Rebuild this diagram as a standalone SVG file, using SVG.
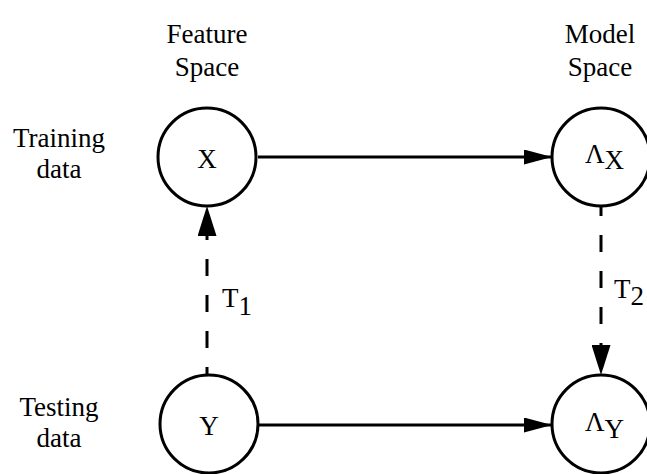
<svg xmlns="http://www.w3.org/2000/svg" width="647" height="474" viewBox="0 0 647 474">
<style>
.t{font-family:'Liberation Serif',serif;font-size:27px;fill:#000}
.c{text-anchor:middle}
.node circle{fill:#fff;stroke:#000;stroke-width:3}
.edge{stroke:#000;stroke-width:3;fill:none}
.dash{stroke-dasharray:17 19}
</style>
<defs>
<marker id="ah" markerWidth="28" markerHeight="15" refX="28" refY="7.5" orient="auto" markerUnits="userSpaceOnUse">
<path d="M0,0 L28,7.5 L0,15 Z" fill="#000"/>
</marker>
<marker id="av" markerWidth="30" markerHeight="19" refX="30" refY="9.5" orient="auto" markerUnits="userSpaceOnUse">
<path d="M0,0 L30,9.5 L0,19 Z" fill="#000"/>
</marker>
</defs>
<g id="headers">
<text class="t c" x="207" y="43">Feature</text>
<text class="t c" x="207" y="76">Space</text>
<text class="t c" x="600" y="43">Model</text>
<text class="t c" x="600" y="76">Space</text>
<text class="t c" x="59" y="147">Training</text>
<text class="t c" x="59" y="178">data</text>
<text class="t c" x="59" y="416">Testing</text>
<text class="t c" x="59" y="447">data</text>
</g>
<g id="connectors">
<line class="edge" x1="258" y1="157" x2="552" y2="157" marker-end="url(#ah)"/>
<line class="edge" x1="259" y1="425" x2="552" y2="425" marker-end="url(#ah)"/>
<line class="edge dash" x1="207" y1="384" x2="207" y2="206" marker-end="url(#av)"/>
<line class="edge dash" x1="601" y1="199" x2="601" y2="375" marker-end="url(#av)"/>
<text class="t" x="222" y="307">T<tspan dy="8">1</tspan></text>
<text class="t" x="614" y="298">T<tspan dy="7">2</tspan></text>
</g>
<g id="node-X" class="node">
<circle cx="207" cy="157" r="49"/>
<text class="t c" x="207" y="168">X</text>
</g>
<g id="node-LX" class="node">
<circle cx="601" cy="157" r="49"/>
<text class="t" x="585" y="163" font-size="24">Λ<tspan dy="6">X</tspan></text>
</g>
<g id="node-Y" class="node">
<circle cx="209" cy="424" r="49"/>
<text class="t c" x="209" y="435">Y</text>
</g>
<g id="node-LY" class="node">
<circle cx="601" cy="424" r="49"/>
<text class="t" x="585" y="431" font-size="24">Λ<tspan dy="7">Y</tspan></text>
</g>
</svg>
